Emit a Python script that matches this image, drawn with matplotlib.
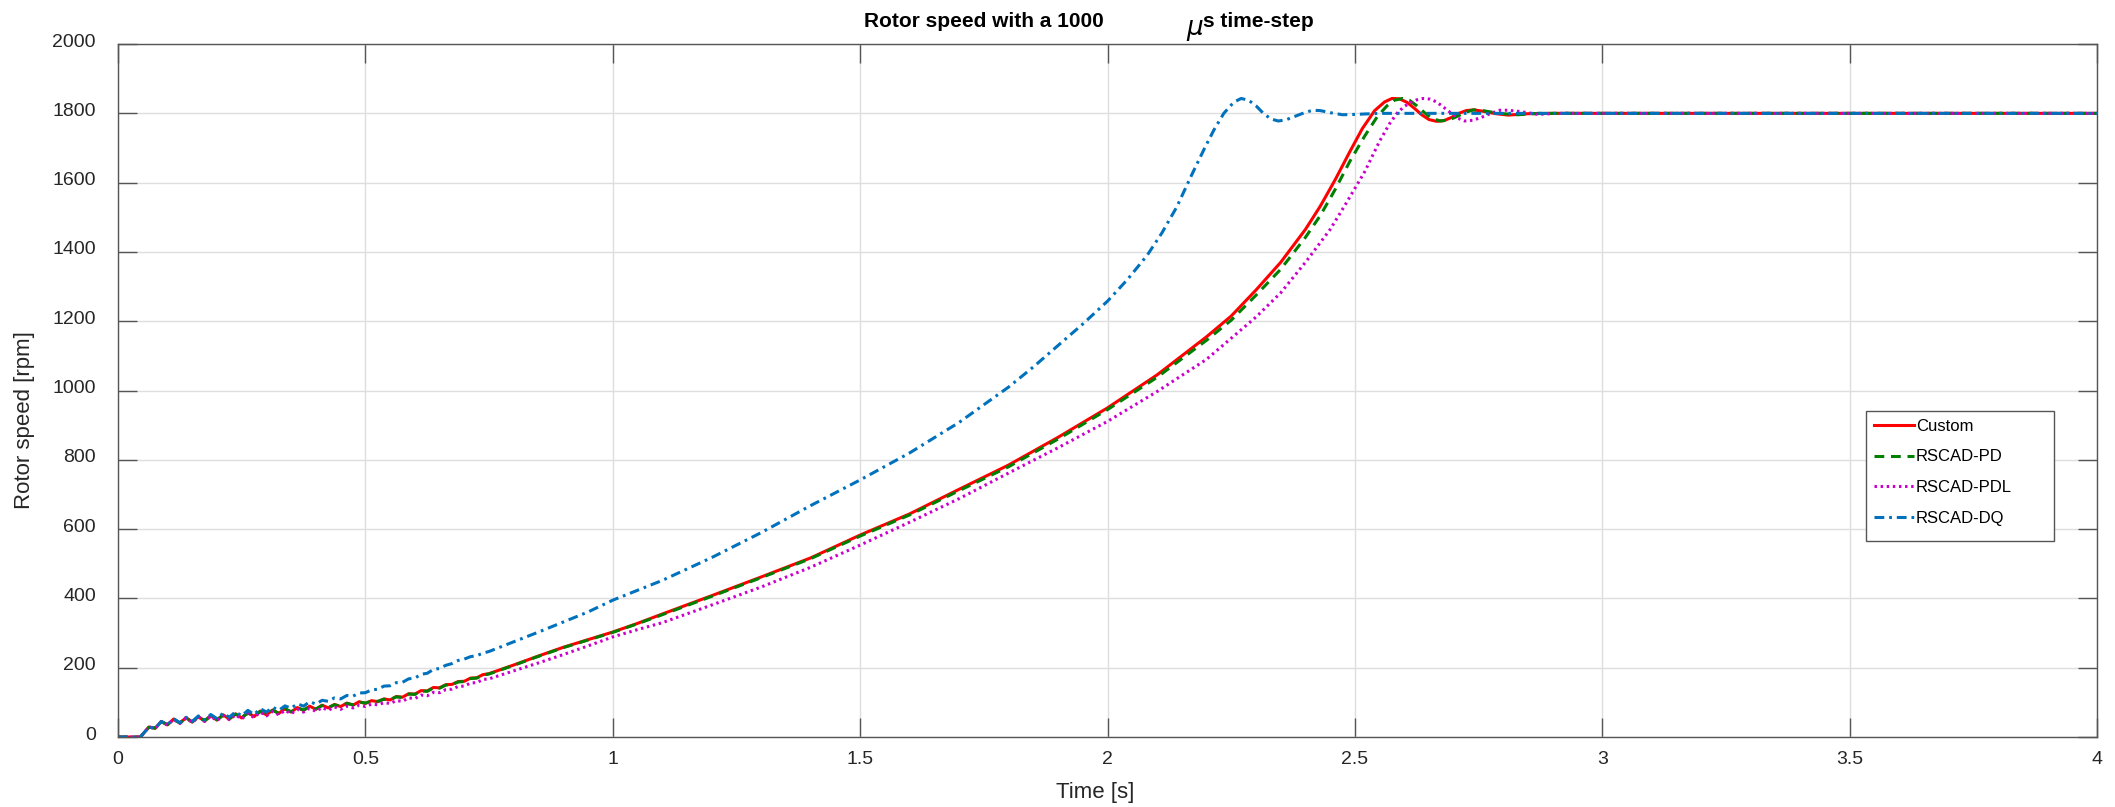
import matplotlib
matplotlib.use("Agg")
import matplotlib.pyplot as plt
import matplotlib.transforms as mtransforms
from matplotlib.patches import Rectangle
import numpy as np

plt.rcParams['font.family'] = ['Liberation Sans', 'DejaVu Sans']

# Start-up region (shared time samples, ripple visible)
t_start = [0.0, 0.045, 0.05, 0.0625, 0.075, 0.0875, 0.1, 0.1125, 0.125, 0.1375, 0.15,
           0.1625, 0.175, 0.1875, 0.2, 0.2125, 0.225, 0.2375, 0.25, 0.2625, 0.275,
           0.2875, 0.3, 0.3125, 0.325, 0.3375, 0.35, 0.3625, 0.375, 0.3875, 0.4,
           0.4125, 0.425, 0.4375, 0.45, 0.4625, 0.475, 0.4875, 0.5, 0.5125, 0.525,
           0.5375, 0.55, 0.5625, 0.575, 0.5875, 0.6, 0.6125, 0.625, 0.6375, 0.65,
           0.6625, 0.675, 0.6875, 0.7, 0.7125, 0.725, 0.7375, 0.75]

custom_start = [0, 0, 8, 29, 25, 45, 35, 52, 40, 56, 43, 59, 46, 62, 49, 64, 52, 67, 55,
                71, 59, 75, 64, 78, 68, 82, 72, 85, 77, 89, 80, 92, 84, 94, 88, 98, 92,
                102, 97, 105, 102, 110, 107, 117, 115, 125, 124, 134, 133, 143, 142,
                151, 152, 160, 161, 170, 171, 180, 183]
pd_start = [0, 0, 8, 28, 26, 44, 36, 51, 41, 55, 44, 58, 47, 61, 50, 63, 53, 66, 56,
            70, 60, 74, 65, 77, 69, 81, 73, 84, 78, 88, 81, 91, 85, 93, 89, 97, 93,
            101, 98, 104, 103, 109, 108, 116, 114, 124, 123, 133, 132, 142, 141,
            150, 151, 159, 160, 169, 170, 179, 182]
pdl_start = [0, 0, 8, 29, 25, 44, 35, 51, 39, 55, 42, 58, 45, 60, 47, 62, 50, 64, 52,
             68, 56, 72, 61, 74, 64, 77, 67, 80, 72, 83, 74, 85, 77, 87, 80, 89, 84,
             92, 88, 95, 93, 99, 97, 105, 103, 113, 111, 121, 119, 129, 128,
             137, 138, 146, 147, 156, 157, 166, 168]
dq_start = [0, 0, 8, 29, 25, 45, 36, 53, 41, 57, 45, 61, 49, 65, 53, 69, 57, 73, 61,
            77, 65, 82, 72, 86, 77, 90, 83, 96, 89, 102, 95, 106, 103, 113, 110, 120,
            118, 127, 128, 136, 138, 147, 148, 157, 158, 168, 170, 181, 184, 195, 198,
            207, 212, 221, 225, 232, 235, 242, 247]

# Remaining trajectory of each model
custom_t = [0.8, 0.85, 0.9, 0.95, 1.0, 1.05, 1.1, 1.2, 1.3, 1.4, 1.5, 1.6, 1.7, 1.8,
            1.9, 2.0, 2.1, 2.2, 2.25, 2.3, 2.35, 2.4, 2.43, 2.46, 2.49, 2.515, 2.54,
            2.56, 2.575, 2.59, 2.605, 2.62, 2.635, 2.65, 2.665, 2.68, 2.695, 2.71,
            2.725, 2.74, 2.755, 2.785, 2.81, 2.85, 2.9, 4.0]
custom_v = [208, 234, 259, 281, 303, 328, 355, 408, 462, 517, 583, 644, 715, 785, 865,
            950, 1045, 1155, 1215, 1290, 1370, 1465, 1532, 1608, 1690, 1756, 1808,
            1833, 1843, 1842, 1832, 1815, 1796, 1782, 1777, 1779, 1788, 1800, 1808,
            1810, 1807, 1799, 1795, 1799, 1800, 1800]

pd_t = [0.8, 0.85, 0.9, 0.95, 1.0, 1.05, 1.1, 1.2, 1.3, 1.4, 1.5, 1.6, 1.7, 1.8, 1.9,
        2.0, 2.1, 2.2, 2.25, 2.3, 2.35, 2.4, 2.43, 2.46, 2.49, 2.52, 2.545, 2.565,
        2.58, 2.596, 2.61, 2.625, 2.64, 2.655, 2.672, 2.69, 2.705, 2.72, 2.739, 2.755,
        2.77, 2.8, 2.83, 2.87, 4.0]
pd_v = [207, 233, 258, 280, 302, 327, 353, 406, 460, 515, 580, 641, 711, 780, 860,
        945, 1038, 1145, 1203, 1275, 1350, 1442, 1505, 1580, 1662, 1735, 1790, 1822,
        1838, 1843, 1838, 1822, 1803, 1786, 1778, 1781, 1790, 1801, 1810, 1809,
        1805, 1799, 1796, 1800, 1800]

pdl_t = [0.8, 0.85, 0.9, 0.95, 1.0, 1.05, 1.1, 1.2, 1.3, 1.4, 1.5, 1.6, 1.7, 1.8, 1.9,
         2.0, 2.1, 2.2, 2.3, 2.35, 2.4, 2.45, 2.48, 2.52, 2.55, 2.57, 2.586, 2.6,
         2.612, 2.625, 2.638, 2.652, 2.665, 2.68, 2.695, 2.708, 2.722, 2.738, 2.755,
         2.775, 2.793, 2.81, 2.83, 2.87, 2.91, 4.0]
pdl_v = [191, 214, 238, 263, 289, 310, 330, 381, 433, 490, 554, 620, 688, 762, 835,
         911, 997, 1090, 1212, 1282, 1370, 1465, 1535, 1632, 1720, 1770, 1802, 1820,
         1831, 1839, 1843, 1841, 1833, 1817, 1800, 1786, 1778, 1780, 1788, 1800,
         1809, 1809, 1806, 1797, 1800, 1800]

dq_t = [0.8, 0.85, 0.9, 0.95, 1.0, 1.1, 1.2, 1.3, 1.4, 1.5, 1.6, 1.7, 1.8, 1.85, 1.9,
        1.95, 2.0, 2.04, 2.08, 2.11, 2.14, 2.17, 2.195, 2.215, 2.235, 2.255, 2.27,
        2.285, 2.3, 2.315, 2.33, 2.345, 2.36, 2.38, 2.4, 2.415, 2.43, 2.45, 2.475,
        2.5, 2.55, 4.0]
dq_v = [275, 303, 332, 361, 395, 452, 518, 590, 668, 742, 820, 908, 1010, 1068, 1130,
        1192, 1258, 1320, 1390, 1455, 1530, 1622, 1696, 1752, 1800, 1832, 1843, 1838,
        1822, 1800, 1784, 1778, 1781, 1792, 1803, 1809, 1808, 1802, 1796, 1797, 1800,
        1800]

series = [
    ("Custom", custom_start, custom_t, custom_v, "#ff0000", "-"),
    ("RSCAD-PD", pd_start, pd_t, pd_v, "#008000", (0, (3.2, 2.2))),
    ("RSCAD-PDL", pdl_start, pdl_t, pdl_v, "#cc00cc", (0, (0.8, 1.2))),
    ("RSCAD-DQ", dq_start, dq_t, dq_v, "#0072bd", (0, (3.2, 1.6, 0.9, 1.6))),
]

fig = plt.figure(figsize=(21.15, 8.07), dpi=100)
ax = fig.add_axes([0.0558, 0.0867, 0.9357, 0.8587])

for name, v0, t1, v1, col, ls in series:
    t = np.array(t_start + t1)
    v = np.array(v0 + v1)
    ax.plot(t, v, color=col, linestyle=ls, linewidth=2.2, label=name)

ax.set_xlim(0, 4)
ax.set_ylim(0, 2000)
ax.set_xticks([0, 0.5, 1, 1.5, 2, 2.5, 3, 3.5, 4])
ax.set_xticklabels(["0", "0.5", "1", "1.5", "2", "2.5", "3", "3.5", "4"])
ax.set_yticks(range(0, 2001, 200))
ax.grid(True, color="#dedede", linewidth=1.0)
ax.set_axisbelow(True)

for s in ax.spines.values():
    s.set_color("#555555")
    s.set_linewidth(1.0)
ax.tick_params(direction="in", length=14, width=1.0, color="#555555",
               top=True, right=True, labelsize=14, labelcolor="#262626")
ax.tick_params(axis="x", pad=10)
ax.tick_params(axis="y", pad=16)

# matlab puts the y labels a little above the tick
shift = mtransforms.ScaledTranslation(0, 4 / 100, fig.dpi_scale_trans)
for lab in ax.get_yticklabels():
    lab.set_transform(lab.get_transform() + shift)

ax.set_xlabel("Time [s]", fontsize=16, color="#262626")
ax.set_ylabel("Rotor speed [rpm]", fontsize=16, color="#262626")
ax.xaxis.label.set_va("center")
ax.yaxis.label.set_va("center")
ax.xaxis.set_label_coords(0.4937, -0.0794)
ax.yaxis.set_label_coords(-0.0475, 0.457)

# title written in pieces like the original (mu sits apart and lower)
fig.text(1104 / 2115, 0.973, "Rotor speed with a 1000", ha="right", va="center",
         fontsize=15, fontweight="bold", color="#000000")
fig.text(1195 / 2115, 0.962, r"$\mu$", ha="center", va="center", fontsize=19,
         color="#000000")
fig.text(1203 / 2115, 0.973, "s time-step", ha="left", va="center",
         fontsize=15, fontweight="bold", color="#000000")

# legend box drawn separately (matlab leaves room on the right)
box = Rectangle((0.8833, 0.2828), 0.095, 0.1876, transform=ax.transAxes,
                facecolor="white", edgecolor="#555555", linewidth=1.0, zorder=4.5)
ax.add_patch(box)
leg = ax.legend(loc="upper left", bbox_to_anchor=(0.8833, 0.4704), fontsize=12,
                handlelength=2.4, handletextpad=0.15, labelspacing=0.95,
                borderpad=0.45, borderaxespad=0, frameon=False)
leg.set_zorder(5)

fig.savefig("out.png", dpi=100)
